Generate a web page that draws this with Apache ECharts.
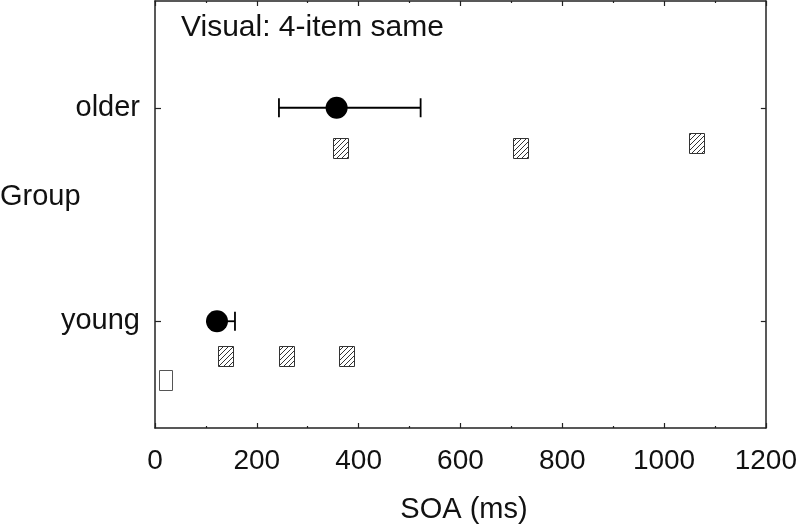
<!DOCTYPE html>
<html>
<head>
<meta charset="utf-8">
<script src="https://cdn.jsdelivr.net/npm/echarts@6/dist/echarts.min.js"></script>
<style>
html,body{margin:0;padding:0;background:#fff;}
#chart{width:800px;height:527px;}
</style>
</head>
<body>
<div id="chart"></div>
<script>
// ---- data ----
const groups = ['young', 'older'];           // category order, bottom to top
const groupPos = [1, 2];                      // value position of each group
const meanSOA = [121.8, 356.8];               // filled circles
const ciLow = [112, 243.5];                   // error bar lower ends
const ciHigh = [157.1, 521.8];                // error bar upper ends
const hatchedYoungSOA = [139.4, 259.2, 377];
const hatchedYoungY = [0.837, 0.837, 0.837];
const hatchedOlderSOA = [365.3, 718.8, 1064.4];
const hatchedOlderY = [1.81, 1.81, 1.835];
const openSOA = [21.6];
const openY = [0.726];
const xTicks = [0, 200, 400, 600, 800, 1000, 1200];

const FONT = '"Liberation Sans", Arial, sans-serif';

// hatch pattern
const pc = document.createElement('canvas');
pc.width = 5; pc.height = 5;
const g = pc.getContext('2d');
g.fillStyle = '#fff'; g.fillRect(0, 0, 5, 5);
g.strokeStyle = '#333'; g.lineWidth = 1;
g.beginPath();
g.moveTo(0, 5); g.lineTo(5, 0);
g.moveTo(-1, 1); g.lineTo(1, -1);
g.moveTo(4, 6); g.lineTo(6, 4);
g.stroke();

const chart = echarts.init(document.getElementById('chart'));

const meanData = meanSOA.map((v, i) => [v, groupPos[i]]);
const errData = ciLow.map((v, i) => [v, groupPos[i], ciHigh[i]]);
const hatchData = hatchedYoungSOA.map((v, i) => [v, hatchedYoungY[i]])
  .concat(hatchedOlderSOA.map((v, i) => [v, hatchedOlderY[i]]));
const openData = openSOA.map((v, i) => [v, openY[i]]);

const axisLine = {show: true, onZero: false, lineStyle: {color: '#222', width: 1.5}};
const tickStyle = {color: '#222', width: 1.2};

function rectItem(w, h, fill, stroke) {
  return function (params, api) {
    const p = api.coord([api.value(0), api.value(1)]);
    return {
      type: 'rect',
      shape: {x: Math.round(p[0] - w / 2) + 0.5, y: Math.round(p[1] - h / 2) + 0.5, width: w, height: h},
      style: {fill: fill, stroke: stroke, lineWidth: 1}
    };
  };
}

chart.setOption({
  animation: false,
  backgroundColor: '#fff',
  grid: {left: 155, right: 34, top: 1, bottom: 99, containLabel: false},
  xAxis: [
    {
      type: 'value', min: xTicks[0], max: xTicks[xTicks.length - 1], interval: 200,
      position: 'bottom',
      axisLine: axisLine,
      axisTick: {show: true, inside: true, length: 5, lineStyle: tickStyle},
      minorTick: {show: true, splitNumber: 2, length: 2, lineStyle: tickStyle},
      splitLine: {show: false},
      axisLabel: {show: true, fontSize: 28, fontFamily: FONT, color: '#111', margin: 19,
        showMinLabel: true, showMaxLabel: true,
        formatter: function (v) { return String(v); }}
    },
    {
      type: 'value', min: xTicks[0], max: xTicks[xTicks.length - 1], interval: 200,
      position: 'top',
      axisLine: axisLine,
      axisTick: {show: true, inside: true, length: 5, lineStyle: tickStyle},
      minorTick: {show: true, splitNumber: 2, length: 2, lineStyle: tickStyle},
      splitLine: {show: false},
      axisLabel: {show: false}
    }
  ],
  yAxis: [
    {
      type: 'category', data: groups, position: 'left', boundaryGap: true,
      axisLine: axisLine,
      axisTick: {show: true, inside: false, alignWithLabel: true, length: -6, lineStyle: tickStyle},
      axisLabel: {fontSize: 29, fontFamily: FONT, color: '#111', margin: 15},
      splitLine: {show: false}
    },
    {
      type: 'category', data: groups, position: 'right', boundaryGap: true,
      axisLine: axisLine,
      axisTick: {show: true, inside: true, alignWithLabel: true, length: 5, lineStyle: tickStyle},
      axisLabel: {show: false},
      splitLine: {show: false}
    },
    {
      type: 'value', min: 0.5, max: 2.5, show: false,
      axisLine: {onZero: false},
      splitLine: {show: false}
    }
  ],
  graphic: [
    {type: 'text', left: 181, top: 13, z: 100,
      style: {text: 'Visual: 4-item same', font: '30px ' + FONT, fill: '#111'}},
    {type: 'text', left: 0, top: 182, z: 100,
      style: {text: 'Group', font: '29px ' + FONT, fill: '#111'}},
    {type: 'text', x: 464, y: 510, z: 100,
      style: {text: 'SOA (ms)', font: '29px ' + FONT, fill: '#111',
        align: 'center', verticalAlign: 'middle', textAlign: 'center', textVerticalAlign: 'middle'}}
  ],
  series: [
    {
      type: 'custom', xAxisIndex: 0, yAxisIndex: 2, z: 2,
      data: errData,
      encode: {x: [0, 2], y: 1},
      renderItem: function (params, api) {
        const y = api.value(1);
        const p1 = api.coord([api.value(0), y]);
        const p2 = api.coord([api.value(2), y]);
        const h = 9.5;
        const st = {stroke: '#000', lineWidth: 1.8};
        return {
          type: 'group',
          children: [
            {type: 'line', shape: {x1: p1[0], y1: p1[1], x2: p2[0], y2: p2[1]}, style: st},
            {type: 'line', shape: {x1: p1[0], y1: p1[1] - h, x2: p1[0], y2: p1[1] + h}, style: st},
            {type: 'line', shape: {x1: p2[0], y1: p2[1] - h, x2: p2[0], y2: p2[1] + h}, style: st}
          ]
        };
      }
    },
    {
      type: 'scatter', xAxisIndex: 0, yAxisIndex: 2, z: 3,
      data: meanData, symbol: 'circle', symbolSize: 22,
      itemStyle: {color: '#000', opacity: 1}
    },
    {
      type: 'custom', xAxisIndex: 0, yAxisIndex: 2, z: 3,
      data: hatchData,
      encode: {x: 0, y: 1},
      renderItem: rectItem(15, 20, {image: pc, repeat: 'repeat'}, '#333')
    },
    {
      type: 'custom', xAxisIndex: 0, yAxisIndex: 2, z: 3,
      data: openData,
      encode: {x: 0, y: 1},
      renderItem: rectItem(13, 20, '#fff', '#555')
    }
  ]
});
</script>
</body>
</html>
